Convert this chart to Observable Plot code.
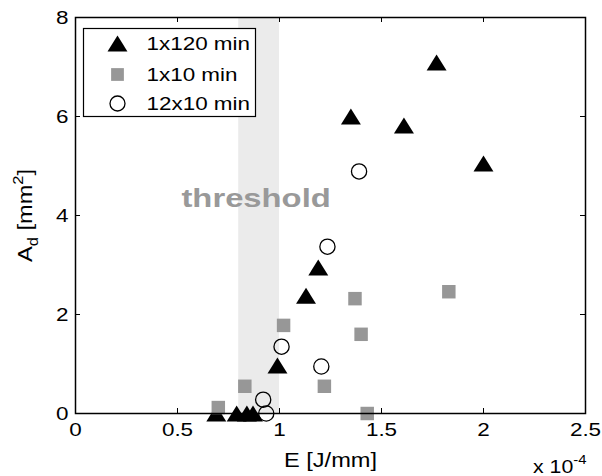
<!DOCTYPE html>
<html><head><meta charset="utf-8">
<script src="https://cdn.jsdelivr.net/npm/d3@7"></script>
<script src="https://cdn.jsdelivr.net/npm/@observablehq/plot@0.6"></script>
<style>
body{margin:0;background:#fff;font-family:"Liberation Sans",Arial,sans-serif}
#chart{width:602px;height:476px}
</style></head><body><div id="chart"></div>
<script>
// ---- data (E in units of 1e-4 J/mm, A_d in mm^2) ----
const series = ["1x120 min", "1x10 min", "12x10 min"];
const e120 = [0.69, 0.79, 0.84, 0.87, 0.99, 1.13, 1.19, 1.35, 1.61, 1.77, 2.00];
const a120 = [0.00, 0.00, 0.00, 0.00, 0.97, 2.38, 2.95, 6.00, 5.82, 7.09, 5.05];
const e10  = [0.70, 0.83, 1.02, 1.22, 1.37, 1.40, 1.43, 1.83];
const a10  = [0.12, 0.55, 1.78, 0.55, 2.32, 1.60, 0.00, 2.46];
const e1210 = [0.92, 0.935, 1.01, 1.205, 1.235, 1.39];
const a1210 = [0.28, 0.00, 1.35, 0.95, 3.37, 4.89];
const thresholdBand = [{x1: 0.8, x2: 1.0}];
const thresholdLabel = "threshold";
const xTicks = [0, 0.5, 1, 1.5, 2, 2.5];
const yTicks = [0, 2, 4, 6, 8];
const xLabel = "E [J/mm]";
const yLabel = "Ad [mm2]";
const expLabel = "x 10-4";

const d120 = e120.map((x, i) => ({x, y: a120[i]}));
const d10 = e10.map((x, i) => ({x, y: a10[i]}));
const d1210 = e1210.map((x, i) => ({x, y: a1210[i]}));

const ff = '"Liberation Sans", Arial, Helvetica, sans-serif';
// triangle whose bounding box is centred on the data point (like MATLAB '^')
const tri = {draw(ctx, size) {
  const w = Math.sqrt(size) * 1.52, h = w * 0.8;
  ctx.moveTo(0, -h / 2); ctx.lineTo(w / 2, h / 2); ctx.lineTo(-w / 2, h / 2); ctx.closePath();
}};
const sqColor = "#979797";

const legendMarks = [
  Plot.frame({insetLeft: 8, insetTop: 11, insetRight: 330, insetBottom: 297, fill: "white", stroke: "black", strokeWidth: 1.2}),
  Plot.dot([0], {frameAnchor: "top-left", dx: 42, dy: 26, symbol: tri, r: 7.4, fill: "black"}),
  Plot.dot([0], {frameAnchor: "top-left", dx: 42, dy: 57, symbol: "square", r: 7.2, fill: sqColor}),
  Plot.dot([0], {frameAnchor: "top-left", dx: 42, dy: 86, r: 7.5, stroke: "black", strokeWidth: 1.3, fill: "none"}),
  ...series.map((s, i) => Plot.text([s], {frameAnchor: "top-left", dx: 71, dy: [26, 57, 86][i], text: d => d, textAnchor: "start", lineAnchor: "middle", fontSize: 19, fill: "black"}))
];

const chart = Plot.plot({
  width: 602, height: 476,
  marginLeft: 75, marginRight: 17, marginTop: 17, marginBottom: 63,
  style: {fontFamily: ff, fontSize: "19px", color: "black", background: "white"},
  x: {domain: [0, 2.5], label: null},
  y: {domain: [0, 8], label: null},
  marks: [
    Plot.rect(thresholdBand, {x1: "x1", x2: "x2", y1: 0, y2: 8, fill: "#ebebeb"}),
    Plot.text([thresholdLabel], {x: (thresholdBand[0].x1 + thresholdBand[0].x2) / 2, y: 4.35, dx: -3, text: d => d, fontSize: 26, fontWeight: "bold", fill: "#999999", lineAnchor: "middle"}),
    Plot.axisX({ticks: xTicks, tickSize: 0, tickPadding: 9, fontSize: 19, tickFormat: d => String(d), label: null}),
    Plot.axisY({ticks: yTicks, tickSize: 0, tickPadding: 7, fontSize: 19, tickFormat: d => String(d), label: null}),
    Plot.tickX(xTicks.slice(1, -1), {x: d => d, insetTop: 391, stroke: "black", strokeWidth: 1}),
    Plot.tickX(xTicks.slice(1, -1), {x: d => d, insetBottom: 391, stroke: "black", strokeWidth: 1}),
    Plot.tickY(yTicks.slice(1, -1), {y: d => d, insetRight: 505, stroke: "black", strokeWidth: 1}),
    Plot.tickY(yTicks.slice(1, -1), {y: d => d, insetLeft: 505, stroke: "black", strokeWidth: 1}),
    Plot.dot(d120, {x: "x", y: "y", symbol: tri, r: 7.4, fill: "black"}),
    Plot.dot(d10, {x: "x", y: "y", symbol: "square", r: 7.6, fill: sqColor}),
    Plot.dot(d1210, {x: "x", y: "y", r: 7.6, stroke: "black", strokeWidth: 1.3, fill: "none"}),
    Plot.frame({stroke: "black", strokeWidth: 1.5}),
    Plot.text([xLabel], {frameAnchor: "bottom", dy: 47, text: d => d, fontSize: 20, textAnchor: "middle", lineAnchor: "middle", fill: "black"}),
    Plot.text([yLabel], {frameAnchor: "left", dx: -50, rotate: -90, text: d => d, fontSize: 20, textAnchor: "middle", lineAnchor: "middle", fill: "black"}),
    Plot.text([expLabel], {frameAnchor: "bottom-right", dx: 1, dy: 53, text: d => d, fontSize: 19, textAnchor: "end", lineAnchor: "middle", fill: "black"}),
    ...legendMarks
  ]
});
document.getElementById("chart").appendChild(chart);

// rich text: sub/superscripts
function rich(plain, parts) {
  d3.select(chart).selectAll("text").filter(function() { return this.textContent === plain; }).each(function() {
    const t = d3.select(this); t.text(null);
    let shift = 0;
    for (const [s, kind] of parts) {
      const ts = t.append("tspan").text(s);
      let target = kind === "sub" ? 6 : kind === "sup" ? -9 : 0;
      if (target !== shift) { ts.attr("dy", target - shift); shift = target; }
      if (kind) ts.attr("font-size", "70%");
    }
  });
}
rich(yLabel, [["A"], ["d", "sub"], [" [mm"], ["2", "sup"], ["]"]]);
rich(expLabel, [["x 10"], ["-4", "sup"]]);

// the reference figure's lettering is horizontally widened; mimic it
d3.select(chart).selectAll("text").each(function() {
  const len = this.getComputedTextLength();
  if (!len) return;
  const f = this.textContent === thresholdLabel ? 1.26 : this.textContent === "x 10-4" ? 1.12 : 1.18;
  this.setAttribute("textLength", (len * f).toFixed(1));
  this.setAttribute("lengthAdjust", "spacingAndGlyphs");
});
</script></body></html>
